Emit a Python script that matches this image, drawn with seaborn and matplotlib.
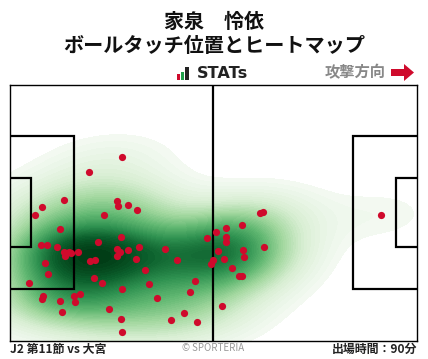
import matplotlib
matplotlib.use("Agg")
import matplotlib.pyplot as plt
from matplotlib.colors import LinearSegmentedColormap
from matplotlib.patches import Polygon, Rectangle
import pandas as pd
import seaborn as sns

plt.rcParams['font.family'] = ['Noto Sans CJK JP', 'DejaVu Sans']

player = "家泉　怜依"
title = "ボールタッチ位置とヒートマップ"
direction_label = "攻撃方向"
match_label = "J2 第11節 vs 大宮"
credit = "© SPORTERIA"
minutes_label = "出場時間：90分"

touch_x = [122, 89, 64, 42, 35, 117, 118, 128, 137, 104, 60, 41, 47, 57, 98, 121, 139, 117, 120, 128,
           117, 165, 207, 64, 69, 71, 78, 65, 90, 95, 136, 177, 211, 213, 45, 48, 145, 29, 94, 102,
           149, 195, 122, 190, 43, 42, 74, 80, 60, 75, 157, 62, 109, 184, 121, 171, 197, 122, 260, 263,
           381, 242, 226, 216, 226, 226, 218, 243, 264, 244, 224, 232, 239, 242, 222]
touch_y = [157, 172, 200, 207, 215, 201, 206, 205, 210, 215, 229, 245, 245, 247, 242, 237, 247, 249, 252, 250,
           256, 249, 238, 252, 252, 253, 252, 256, 261, 260, 259, 260, 264, 260, 263, 274, 270, 283, 278, 283,
           284, 281, 289, 292, 296, 299, 296, 294, 301, 302, 298, 312, 309, 313, 319, 320, 322, 332, 213, 212,
           215, 225, 228, 232, 237, 242, 251, 250, 247, 257, 259, 268, 276, 276, 306]

touches = pd.DataFrame({"x": touch_x, "y": touch_y})

W, H = 428, 359
fig = plt.figure(figsize=(W / 100, H / 100), dpi=100)
fig.patch.set_facecolor("white")
ax = fig.add_axes([10 / W, 1 - 340.5 / H, 406.5 / W, 256 / H])

heat = LinearSegmentedColormap.from_list(
    "heat", ["#f4faf2", "#d8eed3", "#a4d8a0", "#62b872", "#2e9150", "#0b5f2c", "#003a14"])
sns.kdeplot(data=touches, x="x", y="y", fill=True, cmap=heat, levels=60, thresh=0.03,
            bw_adjust=1.2, cut=5, gridsize=200, ax=ax, zorder=1)

# pitch lines
line = dict(color="black", lw=1.6, zorder=2, solid_capstyle="butt", solid_joinstyle="miter")
ax.plot([213, 213], [84.5, 340.5], **line)
ax.plot([10, 74, 74, 10], [136, 136, 289, 289], **line)
ax.plot([10, 31, 31, 10], [178, 178, 247, 247], **line)
ax.plot([416.5, 353, 353, 416.5], [136, 136, 289, 289], **line)
ax.plot([416.5, 396, 396, 416.5], [178, 178, 247, 247], **line)

sns.scatterplot(data=touches, x="x", y="y", color="#cf0a2c", s=27, linewidth=0, ax=ax, zorder=3)

ax.set_xlim(10, 416.5)
ax.set_ylim(340.5, 84.5)
ax.set_xticks([])
ax.set_yticks([])
ax.set_xlabel("")
ax.set_ylabel("")
for s in ax.spines.values():
    s.set_linewidth(1.0)
    s.set_color("black")
    s.set_zorder(5)

# header and footer, placed in pixels
over = fig.add_axes([0, 0, 1, 1], facecolor="none")
over.set_xlim(0, W)
over.set_ylim(H, 0)
over.axis("off")

over.text(214, 21, player, ha="center", va="center", fontsize=14.4, fontweight="bold", color="#111111")
over.text(214, 46, title, ha="center", va="center", fontsize=14.5, fontweight="bold", color="#111111")
over.text(355, 72, direction_label, ha="center", va="center", fontsize=11, fontweight="bold", color="#888888")
over.add_patch(Polygon([(391, 69), (404, 69), (404, 64), (414, 72.5), (404, 81), (404, 76), (391, 76)],
                       color="#cf0a2c", lw=0))

over.add_patch(Rectangle((177.5, 74), 3, 5.5, color="#cf0a2c", lw=0))
over.add_patch(Rectangle((181.5, 72), 3, 7.5, color="#1f9e4a", lw=0))
over.add_patch(Rectangle((185.5, 67), 4, 12.5, color="#222222", lw=0))
over.text(223, 73.5, "STATs", ha="center", va="center", fontsize=11.6, fontweight="bold",
          family="DejaVu Sans", color="#222222")

over.text(10, 349, match_label, ha="left", va="center", fontsize=8.6, fontweight="bold", color="#222222")
over.text(213, 348, credit, ha="center", va="center", fontsize=7, color="#999999")
over.text(417, 349, minutes_label, ha="right", va="center", fontsize=8.6, fontweight="bold", color="#222222")

fig.savefig("out.png", dpi=100)
